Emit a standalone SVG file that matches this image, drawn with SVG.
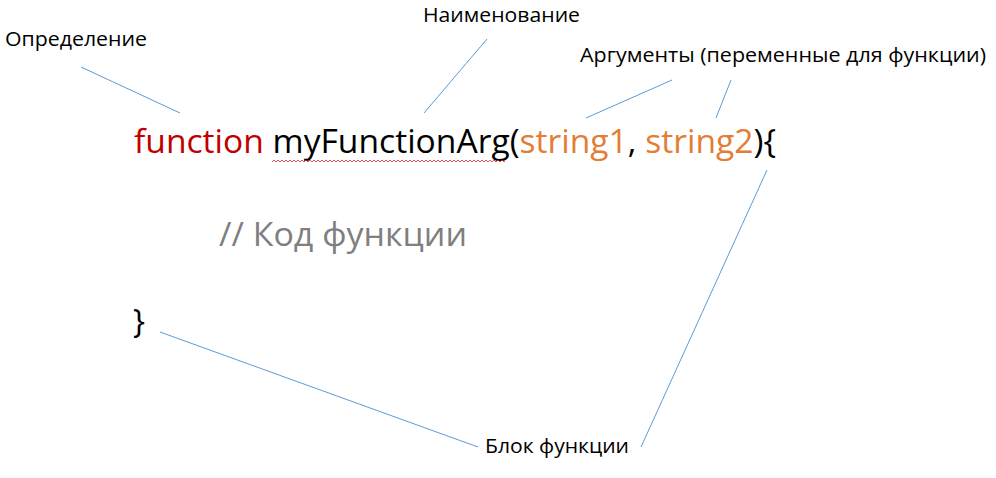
<svg xmlns="http://www.w3.org/2000/svg" width="996" height="478" viewBox="0 0 996 478">
<defs>
<pattern id="wave" x="272" y="159" width="4" height="4" patternUnits="userSpaceOnUse">
<path d="M0,3 L2,1 L4,3" stroke="#e03030" stroke-width="0.8" fill="none"/>
</pattern>
</defs>
<style>
.lbl{font-family:"Open Sans","Noto Sans","DejaVu Sans",sans-serif;font-size:20.5px;fill:#000}
.code{font-family:"Open Sans","Noto Sans","DejaVu Sans",sans-serif;font-size:32px}
.kw{fill:#c00000}
.arg{fill:#e47d35}
.cm{fill:#7f7f7f}
.ln{stroke:#5b9bd5;stroke-width:1;fill:none}
</style>
<rect width="996" height="478" fill="#fff"/>
<g id="code">
<text class="code" x="134" y="153" textLength="642" lengthAdjust="spacingAndGlyphs"><tspan class="kw">function</tspan> myFunctionArg(<tspan class="arg">string1</tspan>, <tspan class="arg">string2</tspan>){</text>
<rect x="272" y="159" width="233" height="4" fill="url(#wave)"/>
<text class="code cm" x="219" y="246" textLength="248" lengthAdjust="spacingAndGlyphs">// Код функции</text>
<text class="code" x="133" y="333">}</text>
</g>
<g id="label-definition"><text class="lbl" x="5" y="46" textLength="142" lengthAdjust="spacingAndGlyphs">Определение</text></g>
<g id="label-name"><text class="lbl" x="423" y="22" textLength="157" lengthAdjust="spacingAndGlyphs">Наименование</text></g>
<g id="label-args"><text class="lbl" x="580" y="62" textLength="406" lengthAdjust="spacingAndGlyphs">Аргументы (переменные для функции)</text></g>
<g id="label-block"><text class="lbl" x="485" y="453" textLength="144" lengthAdjust="spacingAndGlyphs">Блок функции</text></g>
<g id="connectors">
<line class="ln" x1="81" y1="67" x2="180" y2="113"/>
<line class="ln" x1="487" y1="39" x2="424" y2="113"/>
<line class="ln" x1="672" y1="80" x2="586" y2="118"/>
<line class="ln" x1="731" y1="80" x2="716" y2="118"/>
<line class="ln" x1="767" y1="170" x2="641" y2="447"/>
<line class="ln" x1="160" y1="332" x2="478" y2="447"/>
</g>
</svg>
